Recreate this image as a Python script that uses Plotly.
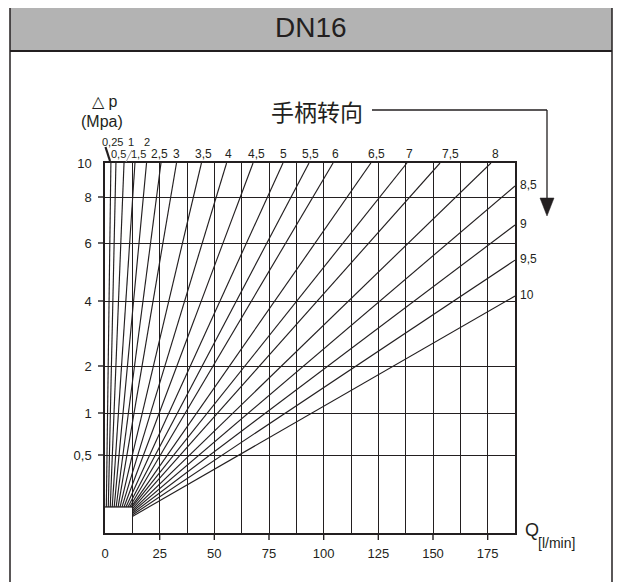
import numpy as np
import plotly.graph_objects as go

# ---------------- data ----------------
TOP_LABELS = ["0,25", "0,5", "1", "1,5", "2", "2,5", "3", "3,5", "4", "4,5",
              "5", "5,5", "6", "6,5", "7", "7,5", "8"]
TOP_START_Q = [0.6, 1.5, 2.4, 3.3, 4.2, 5.1, 6.0, 6.9, 7.8, 8.7, 9.6, 10.5,
               11.3, 12.0, 12.5, 12.5, 12.5]
TOP_START_P = [0.167] * 15 + [0.154, 0.144]
TOP_END_Q = [2.7, 5.0, 8.7, 13.7, 19.0, 25.6, 32.7, 44.1, 55.6, 67.7, 81.4,
             93.3, 104.3, 121.6, 138.1, 153.2, 176.5]
TOP_END_P = 10

RIGHT_LABELS = ["8,5", "9", "9,5", "10"]
RIGHT_START_Q = [12.5, 12.5, 12.5, 12.5]
RIGHT_START_P = [0.135, 0.125, 0.115, 0.106]
RIGHT_END_Q = 187.5
RIGHT_END_P = [8.65, 6.78, 5.41, 4.17]

BOX_Q = 12.5
BOX_P = 0.167

X_TICKS = [0, 25, 50, 75, 100, 125, 150, 175]
X_TICK_TEXT = [str(v) for v in X_TICKS]
P_TICKS = [0.5, 1, 2, 4, 6, 8, 10]
P_TICK_TEXT = ["0,5", "1", "2", "4", "6", "8", "10"]

# non-linear pressure scale of the chart (axis definition)
SCALE_P = [0] + P_TICKS
SCALE_POS = [0, 78, 120, 167, 232, 290, 336, 370]


def ypos(p):
    return float(np.interp(p, SCALE_P, SCALE_POS))


# ---------------- style ----------------
DARK = "#231f20"
FONT = "Liberation Sans, Arial, sans-serif"
OFF = 8                      # page body margin in the browser
W, H = 622 - OFF, 582 - OFF
L, T, PW, PH = 105, 163, 410, 370   # plot area in page pixels
UPPER_ROW = {"0,25", "1", "2"}
SMALL = {"0,25", "0,5", "1", "1,5", "2"}
LABEL_DX = [1.5, 3, 7, 3.5, 0, -1, 0, 2, 1.5, 3, 1, 1.5, 2, 5.5, 3, 10, 5]


def px(x):
    return (x - L) / PW


def py(y):
    return (T + PH - y) / PH


fig = go.Figure()

# box top line
fig.add_trace(go.Scatter(x=[0, BOX_Q], y=[ypos(BOX_P), ypos(BOX_P)], mode="lines",
                         line=dict(color=DARK, width=1.3), hoverinfo="skip"))

for sq, sp, eq in zip(TOP_START_Q, TOP_START_P, TOP_END_Q):
    fig.add_trace(go.Scatter(x=[sq, eq], y=[ypos(sp), ypos(TOP_END_P)], mode="lines",
                             line=dict(color=DARK, width=1.15), hoverinfo="skip"))
for sq, sp, ep in zip(RIGHT_START_Q, RIGHT_START_P, RIGHT_END_P):
    fig.add_trace(go.Scatter(x=[sq, RIGHT_END_Q], y=[ypos(sp), ypos(ep)], mode="lines",
                             line=dict(color=DARK, width=1.15), hoverinfo="skip"))

ann = []
for lab, eq, dx in zip(TOP_LABELS, TOP_END_Q, LABEL_DX):
    ytop = 141.5 if lab in UPPER_ROW else 154.5
    ann.append(dict(x=eq, xref="x", y=py(ytop), yref="paper", text=lab, showarrow=False,
                    xanchor="center", yanchor="middle", xshift=dx,
                    font=dict(family=FONT, size=11 if lab in SMALL else 12, color=DARK)))
for lab, ep in zip(RIGHT_LABELS, RIGHT_END_P):
    ann.append(dict(x=RIGHT_END_Q, xref="x", y=ypos(ep), yref="y", text=lab, showarrow=False,
                    xanchor="left", yanchor="middle", xshift=3, yshift=1,
                    font=dict(family=FONT, size=12, color=DARK)))

ann += [
    dict(x=px(311), y=py(27), xref="paper", yref="paper", text="DN16", showarrow=False,
         xanchor="center", yanchor="middle",
         font=dict(family="Liberation Sans Narrow, Arial Narrow, Liberation Sans", size=28, color=DARK)),
    dict(x=px(104), y=py(102), xref="paper", yref="paper", text="△ p", showarrow=False,
         xanchor="center", yanchor="middle", font=dict(family=FONT, size=16, color=DARK)),
    dict(x=px(102), y=py(121), xref="paper", yref="paper", text="(Mpa)", showarrow=False,
         xanchor="center", yanchor="middle", font=dict(family=FONT, size=16, color=DARK)),
    dict(x=px(317), y=py(111), xref="paper", yref="paper", text="手柄转向", showarrow=False,
         xanchor="center", yanchor="middle", font=dict(family="Noto Sans CJK SC", size=23, color=DARK)),
    dict(x=px(523), y=py(530), xref="paper", yref="paper", text="Q", showarrow=False,
         xanchor="left", yanchor="middle", font=dict(family=FONT, size=18, color=DARK)),
    dict(x=px(536), y=py(543), xref="paper", yref="paper", text="[l/min]", showarrow=False,
         xanchor="left", yanchor="middle", font=dict(family=FONT, size=14, color=DARK)),
]

shapes = []
# title bar and frame
shapes.append(dict(type="rect", xref="paper", yref="paper", x0=px(10), x1=px(612), y0=py(3), y1=py(51),
                   fillcolor="#b3b3b3", line=dict(width=0), layer="below"))
for (x0, y0, x1, y1, w) in [(10, 3, 612, 3, 1.5), (10, 51, 612, 51, 2.2),
                            (10, 3, 10, 600, 1.5), (612, 3, 612, 600, 1.5)]:
    shapes.append(dict(type="line", xref="paper", yref="paper", x0=px(x0), y0=py(y0), x1=px(x1), y1=py(y1),
                       line=dict(color=DARK, width=w)))
# direction arrow
for (x0, y0, x1, y1) in [(372, 110, 547, 110), (547, 110, 547, 200)]:
    shapes.append(dict(type="line", xref="paper", yref="paper", x0=px(x0), y0=py(y0), x1=px(x1), y1=py(y1),
                       line=dict(color=DARK, width=1.3)))
shapes.append(dict(type="path", xref="paper", yref="paper",
                   path=f"M {px(540)},{py(198)} L {px(554)},{py(198)} L {px(547)},{py(216)} Z",
                   fillcolor=DARK, line=dict(color=DARK, width=0.5)))
# leaders for small labels
shapes.append(dict(type="line", xref="paper", yref="paper", x0=px(105.5), y0=py(147), x1=px(110), y1=py(161),
                   line=dict(color=DARK, width=2.2)))
shapes.append(dict(type="line", xref="paper", yref="paper", x0=px(132), y0=py(150), x1=px(126), y1=py(162),
                   line=dict(color="#9a9a9a", width=1)))
# tick marks
for q in X_TICKS[1:]:
    shapes.append(dict(type="line", xref="x", yref="paper", x0=q, x1=q, y0=0, y1=-7 / PH,
                       line=dict(color=DARK, width=1.4)))
for p in P_TICKS[:-1]:
    shapes.append(dict(type="line", xref="paper", yref="y", x0=-7 / PW, x1=0, y0=ypos(p), y1=ypos(p),
                       line=dict(color=DARK, width=1.4)))

ml, mt = L - OFF, T - OFF
fig.update_layout(
    width=W, height=H,
    margin=dict(l=ml, r=W - ml - PW, t=mt, b=H - mt - PH, autoexpand=False),
    plot_bgcolor="white", paper_bgcolor="white", showlegend=False,
    annotations=ann, shapes=shapes,
    xaxis=dict(range=[0, RIGHT_END_Q], tickmode="array", tickvals=X_TICKS, ticktext=X_TICK_TEXT,
               ticks="", showgrid=True, gridcolor=DARK, gridwidth=1.3,
               minor=dict(dtick=12.5, tick0=0, showgrid=True, gridcolor=DARK, gridwidth=1.3, ticks=""),
               showline=True, mirror=True, linecolor=DARK, linewidth=1.5, zeroline=False,
               tickfont=dict(family=FONT, size=13, color=DARK), ticklabelstandoff=8, fixedrange=True),
    yaxis=dict(range=[0, SCALE_POS[-1]], tickmode="array", tickvals=[ypos(p) for p in P_TICKS],
               ticktext=P_TICK_TEXT, ticks="", showgrid=True, gridcolor=DARK, gridwidth=1.3,
               showline=True, mirror=True, linecolor=DARK, linewidth=1.5, zeroline=False,
               tickfont=dict(family=FONT, size=13, color=DARK), ticklabelstandoff=9, fixedrange=True),
)

fig.write_html("out.html")
